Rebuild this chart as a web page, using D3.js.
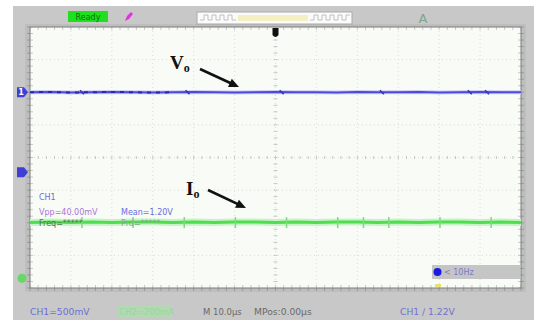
<!DOCTYPE html>
<html><head><meta charset="utf-8">
<script src="https://cdn.jsdelivr.net/npm/d3@7"></script>
<style>html,body{margin:0;padding:0;background:#fff;}svg{display:block;}</style>
</head><body>
<svg id="scope" width="534" height="320"></svg>
<script>
// Horizontal: 12 divisions of 10 µs; vertical: 8 divisions.
const gridTimes = [-60, -50, -40, -30, -20, -10, 0, 10, 20, 30, 40, 50, 60];
const gridDivs = [-4, -3, -2, -1, 0, 1, 2, 3, 4];

// Sampled traces (time in µs, level in divisions)
const sampleTimes = [-60, -55, -50, -45, -40, -35, -30, -25, -20, -15, -10, -5, 0, 5, 10, 15, 20, 25, 30, 35, 40, 45, 50, 55, 60];
const ch1Trace = [2.0, 2.01, 1.99, 2.0, 2.01, 2.0, 1.99, 2.0, 2.01, 2.0, 1.99, 2.0, 2.01, 2.0, 2.0, 1.99, 2.01, 2.0, 2.0, 2.01, 1.99, 2.0, 2.01, 2.0, 2.0];
const ch2Trace = [-1.99, -1.98, -1.99, -1.98, -1.99, -1.98, -1.98, -1.99, -1.98, -1.99, -1.98, -1.98, -1.99, -1.98, -1.99, -1.98, -1.98, -1.99, -1.98, -1.99, -1.98, -1.98, -1.99, -1.98, -1.99];
// Switching glitches on each trace
const ch1GlitchTimes = [-47.3, -21.5, 1.5, 26.0, 47.5, 51.7];
const ch2SpikeTimes = [-47.3, -34.8, -22.3, -9.8, 2.7, 15.2, 21.5, 27.7, 40.2, 52.7];

// Channel markers on the left edge (divisions)
const ch1Marker = 2.0, refMarker = -0.45, ch2Marker = -3.7;

// Readouts
const measureLabels = ["CH1", "Vpp=40.00mV", "Mean=1.20V", "Freq=*****", "Prd=*****"];
const statusText = ["CH1=500mV", "CH2=200mA", "M 10.0\u03bcs", "MPos:0.00\u03bcs", "CH1 \u2215 1.22V"];
const freqText = "< 10Hz";

const svg = d3.select("#scope");
const x = d3.scaleLinear().domain([-60, 60]).range([30, 521]);
const y = d3.scaleLinear().domain([-4, 4]).range([288, 27]);

// Instrument bezel
svg.append("rect").attr("x", 13).attr("y", 6).attr("width", 521).attr("height", 314).attr("fill", "#c8c8c8");
svg.append("rect").attr("x", 25).attr("y", 24).attr("width", 501).attr("height", 268).attr("fill", "#bebebe");

// Screen
svg.append("rect").attr("x", x(-60)).attr("y", y(4)).attr("width", x(60) - x(-60)).attr("height", y(-4) - y(4))
  .attr("fill", "#f8fbf6");

// Dotted graticule
svg.append("g").selectAll("line").data(gridTimes.slice(1, -1)).join("line")
  .attr("x1", d => x(d)).attr("x2", d => x(d)).attr("y1", y(4)).attr("y2", y(-4))
  .attr("stroke", "#d8ded8").attr("stroke-width", 1).attr("stroke-dasharray", "1,3");
svg.append("g").selectAll("line").data(gridDivs.slice(1, -1)).join("line")
  .attr("x1", x(-60)).attr("x2", x(60)).attr("y1", d => y(d)).attr("y2", d => y(d))
  .attr("stroke", "#d8ded8").attr("stroke-width", 1).attr("stroke-dasharray", "1,3");

// Minor ticks along the centre axes and the border
const minorT = d3.range(-60, 60.01, 2);
const minorV = d3.range(-4, 4.01, 0.2);
const tickG = svg.append("g").attr("stroke", "#c4cac4").attr("stroke-width", 1);
tickG.selectAll(".tc").data(minorT).join("line").attr("class", "tc")
  .attr("x1", d => x(d)).attr("x2", d => x(d)).attr("y1", y(0) - 1.5).attr("y2", y(0) + 1.5);
tickG.selectAll(".vc").data(minorV).join("line").attr("class", "vc")
  .attr("x1", x(0) - 2).attr("x2", x(0) + 2).attr("y1", d => y(d)).attr("y2", d => y(d));
tickG.selectAll(".tt").data(minorT).join("line").attr("class", "tt")
  .attr("x1", d => x(d)).attr("x2", d => x(d)).attr("y1", y(4)).attr("y2", y(4) + 3);
tickG.selectAll(".tb").data(minorT).join("line").attr("class", "tb")
  .attr("x1", d => x(d)).attr("x2", d => x(d)).attr("y1", y(-4) - 3).attr("y2", y(-4));
tickG.selectAll(".vl").data(minorV).join("line").attr("class", "vl")
  .attr("x1", x(-60)).attr("x2", x(-60) + 3).attr("y1", d => y(d)).attr("y2", d => y(d));
tickG.selectAll(".vr").data(minorV).join("line").attr("class", "vr")
  .attr("x1", x(60) - 3).attr("x2", x(60)).attr("y1", d => y(d)).attr("y2", d => y(d));

// Outer tick marks on the bezel edges
const outerG = svg.append("g").attr("stroke", "#9a9a9a").attr("stroke-width", 1);
outerG.selectAll("line.o1").data(minorV).join("line").attr("class", "o1")
  .attr("x1", x(-60) - 3).attr("x2", x(-60)).attr("y1", d => y(d)).attr("y2", d => y(d));
outerG.selectAll("line.o2").data(minorV).join("line").attr("class", "o2")
  .attr("x1", x(60)).attr("x2", x(60) + 3).attr("y1", d => y(d)).attr("y2", d => y(d));
outerG.selectAll("line.o3").data(minorT).join("line").attr("class", "o3")
  .attr("x1", d => x(d)).attr("x2", d => x(d)).attr("y1", y(-4)).attr("y2", y(-4) + 3);

svg.append("rect").attr("x", x(-60)).attr("y", y(4)).attr("width", x(60) - x(-60)).attr("height", y(-4) - y(4))
  .attr("fill", "none").attr("stroke", "#7d7d7d").attr("stroke-width", 1);

// Trace lines
const line = d3.line().x((d, i) => x(sampleTimes[i])).y(d => y(d));

// CH2 (current, green) with glow
svg.append("path").datum(ch2Trace).attr("d", line).attr("fill", "none")
  .attr("stroke", "#c6f3c6").attr("stroke-width", 7);
svg.append("path").datum(ch2Trace).attr("d", line).attr("fill", "none")
  .attr("stroke", "#4ede4e").attr("stroke-width", 3);
svg.append("g").selectAll("line").data(ch2SpikeTimes).join("line")
  .attr("x1", d => x(d)).attr("x2", d => x(d))
  .attr("y1", y(-1.98) - 5).attr("y2", y(-1.98) + 6)
  .attr("stroke", "#7fd97f").attr("stroke-width", 1.5);

// CH1 (voltage, blue)
svg.append("path").datum(ch1Trace).attr("d", line).attr("fill", "none")
  .attr("stroke", "#cdcdf3").attr("stroke-width", 4);
svg.append("path").datum(ch1Trace).attr("d", line).attr("fill", "none")
  .attr("stroke", "#4a4adc").attr("stroke-width", 2);
svg.append("path").datum(ch1Trace.slice(0, 8)).attr("d", line).attr("fill", "none")
  .attr("stroke", "#2a2aa8").attr("stroke-width", 2).attr("stroke-dasharray", "4,5");
svg.append("g").selectAll("line").data(ch1GlitchTimes).join("line")
  .attr("x1", d => x(d) - 2).attr("x2", d => x(d) + 2)
  .attr("y1", y(2.0) - 2).attr("y2", y(2.0) + 2)
  .attr("stroke", "#3434b4").attr("stroke-width", 1.5);

// Channel markers
function marker(level, color, label) {
  const g = svg.append("g").attr("transform", `translate(17,${y(level)})`);
  g.append("path").attr("d", "M0,-5 L7,-5 L11,0 L7,5 L0,5 Z").attr("fill", color);
  g.append("text").attr("x", 4).attr("y", 3).attr("font-size", 8).attr("font-family", "DejaVu Sans")
    .attr("font-weight", "bold").attr("fill", "#fff").attr("text-anchor", "middle").text(label);
}
marker(ch1Marker, "#3f3fd8", "1");
marker(refMarker, "#3f3fd8", "");
svg.append("circle").attr("cx", 22).attr("cy", y(ch2Marker)).attr("r", 4.5).attr("fill", "#66d866");

// Trigger position marker
svg.append("path").attr("d", `M${x(0) - 3},${y(4) + 1} L${x(0) + 3},${y(4) + 1} L${x(0) + 3},${y(4) + 8} Q${x(0)},${y(4) + 12} ${x(0) - 3},${y(4) + 8} Z`)
  .attr("fill", "#111");

// Top status bar
svg.append("rect").attr("x", 68).attr("y", 11).attr("width", 40).attr("height", 11).attr("fill", "#1ee01e");
svg.append("text").attr("x", 88).attr("y", 19.5).attr("text-anchor", "middle").attr("font-size", 8)
  .attr("font-family", "DejaVu Sans").attr("fill", "#0b6f0b").text("Ready");
svg.append("path").attr("d", "M125,21 L127,16 L131,12 L133,14 L129,19 Z").attr("fill", "#e033e0");

svg.append("rect").attr("x", 197).attr("y", 12).attr("width", 155).attr("height", 12)
  .attr("fill", "#fbfbfb").attr("stroke", "#a9a9a9");
svg.append("rect").attr("x", 238).attr("y", 15).attr("width", 70).attr("height", 6).attr("fill", "#f5f0c4");
function squareWave(x0, x1) {
  let p = "", s = 0;
  for (let xx = x0; xx < x1; xx += 4, s ^= 1) {
    const yy = s ? 15 : 20;
    p += (p ? "L" : "M") + xx + "," + yy + " L" + (xx + 4) + "," + yy;
  }
  return p;
}
svg.append("path").attr("d", squareWave(200, 236)).attr("fill", "none").attr("stroke", "#b3b3b3").attr("stroke-width", 0.8);
svg.append("path").attr("d", squareWave(310, 350)).attr("fill", "none").attr("stroke", "#b3b3b3").attr("stroke-width", 0.8);
svg.append("text").attr("x", 423).attr("y", 23).attr("text-anchor", "middle").attr("font-size", 13)
  .attr("font-family", "DejaVu Sans").attr("fill", "#7fa58a").text("A");

// Annotations
function annotate(tx, ty, letter, ax1, ay1, ax2, ay2) {
  const t = svg.append("text").attr("x", tx).attr("y", ty).attr("font-family", "Liberation Serif")
    .attr("font-weight", "bold").attr("fill", "#111");
  t.append("tspan").attr("font-size", 19).text(letter);
  t.append("tspan").attr("font-size", 12).attr("dy", 3).text("o");
  const ang = Math.atan2(ay2 - ay1, ax2 - ax1);
  svg.append("line").attr("x1", ax1).attr("y1", ay1)
    .attr("x2", ax2 - 6 * Math.cos(ang)).attr("y2", ay2 - 6 * Math.sin(ang))
    .attr("stroke", "#111").attr("stroke-width", 2.6);
  const hx = ax2, hy = ay2, L = 10, W = 4.5;
  const bx = hx - L * Math.cos(ang), by = hy - L * Math.sin(ang);
  svg.append("path").attr("d", `M${hx},${hy} L${bx - W * Math.sin(ang)},${by + W * Math.cos(ang)} L${bx + W * Math.sin(ang)},${by - W * Math.cos(ang)} Z`)
    .attr("fill", "#111");
}
annotate(170, 69, "V", 200, 69, 239, 87);
annotate(186, 195, "I", 208, 190, 246, 208);

// Measurement readouts
const mfont = "DejaVu Sans";
svg.append("text").attr("x", 39).attr("y", 200).attr("font-size", 8).attr("font-family", mfont).attr("fill", "#6c6cd8").text(measureLabels[0]);
svg.append("text").attr("x", 39).attr("y", 215).attr("font-size", 8).attr("font-family", mfont).attr("fill", "#a774d8").text(measureLabels[1]);
svg.append("text").attr("x", 121).attr("y", 215).attr("font-size", 8).attr("font-family", mfont).attr("fill", "#6a6ae0").text(measureLabels[2]);
svg.append("text").attr("x", 39).attr("y", 226).attr("font-size", 8).attr("font-family", mfont).attr("fill", "#4a7a4a").text(measureLabels[3]);
svg.append("text").attr("x", 121).attr("y", 226).attr("font-size", 8).attr("font-family", mfont).attr("fill", "#88a888").text(measureLabels[4]);

// Frequency counter box
svg.append("rect").attr("x", 432).attr("y", 265).attr("width", 88).attr("height", 14).attr("fill", "#c5c5c5");
svg.append("circle").attr("cx", 437.5).attr("cy", 272).attr("r", 4).attr("fill", "#1a1ae0");
svg.append("text").attr("x", 444).attr("y", 275).attr("font-size", 8).attr("font-family", mfont).attr("fill", "#7a7ac8").text(freqText);
svg.append("rect").attr("x", 435).attr("y", 284).attr("width", 6).attr("height", 3).attr("fill", "#e8e070");

// Bottom status line
const bfs = 9.2;
svg.append("text").attr("x", 30).attr("y", 315).attr("font-size", bfs).attr("font-family", mfont).attr("fill", "#6e6ed2").text(statusText[0]);
svg.append("rect").attr("x", 118).attr("y", 305).attr("width", 54).attr("height", 12).attr("fill", "#b2d9b2");
svg.append("text").attr("x", 119).attr("y", 315).attr("font-size", 8.5).attr("font-family", mfont).attr("fill", "#9fd39f").text(statusText[1]);
svg.append("text").attr("x", 203).attr("y", 315).attr("font-size", 8.5).attr("font-family", mfont).attr("fill", "#6a6a6a").text(statusText[2]);
svg.append("text").attr("x", 254).attr("y", 315).attr("font-size", bfs).attr("font-family", mfont).attr("fill", "#6a6a6a").text(statusText[3]);
svg.append("text").attr("x", 400).attr("y", 315).attr("font-size", bfs).attr("font-family", mfont).attr("fill", "#7070cc").text(statusText[4]);
</script>
</body></html>
